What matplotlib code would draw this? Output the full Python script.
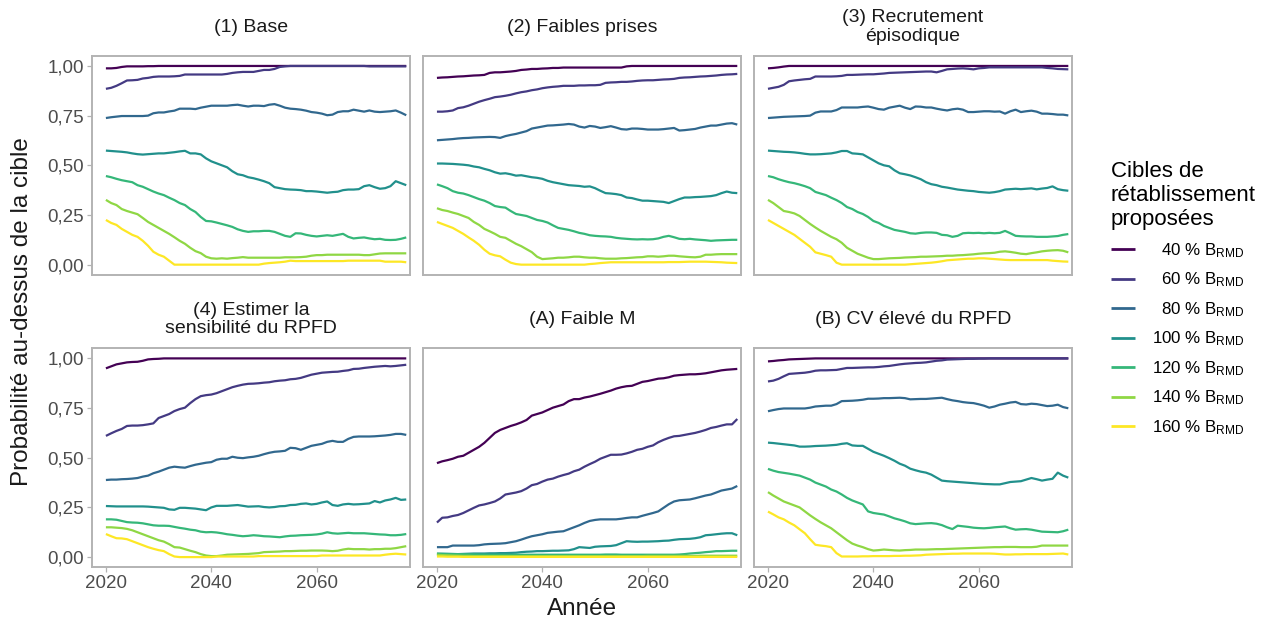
import numpy as np
import matplotlib
matplotlib.use("Agg")
import matplotlib.pyplot as plt

plt.rcParams["font.family"] = ["Liberation Sans", "DejaVu Sans"]
plt.rcParams["mathtext.default"] = "regular"

years = list(range(2020, 2078))

targets = ["40", "60", "80", "100", "120", "140", "160"]
colors = ["#440154", "#443A83", "#31688E", "#21908C", "#35B779", "#8FD744", "#FDE725"]

titles = ["(1) Base", "(2) Faibles prises", "(3) Recrutement\népisodique",
          "(4) Estimer la\nsensibilité du RPFD", "(A) Faible M", "(B) CV élevé du RPFD"]

# (1) Base
base = [
    [0.988, 0.988, 0.99, 0.995, 0.998, 0.998, 0.998, 0.998, 0.999, 0.999,
     1.0, 1.0, 1.0, 1.0, 1.0, 1.0, 1.0, 1.0, 1.0, 1.0,
     1.0, 1.0, 1.0, 1.0, 1.0, 1.0, 1.0, 1.0, 1.0, 1.0,
     1.0, 1.0, 1.0, 1.0, 1.0, 1.0, 1.0, 1.0, 1.0, 1.0,
     1.0, 1.0, 1.0, 1.0, 1.0, 1.0, 1.0, 1.0, 1.0, 1.0,
     1.0, 1.0, 1.0, 1.0, 1.0, 1.0, 1.0, 1.0],
    [0.885, 0.89, 0.90, 0.913, 0.927, 0.928, 0.93, 0.937, 0.94, 0.945,
     0.947, 0.947, 0.947, 0.948, 0.95, 0.957, 0.957, 0.957, 0.957, 0.957,
     0.957, 0.957, 0.957, 0.96, 0.965, 0.968, 0.97, 0.97, 0.97, 0.975,
     0.98, 0.98, 0.985, 0.995, 0.998, 1.0, 1.0, 1.0, 1.0, 1.0,
     1.0, 1.0, 1.0, 1.0, 1.0, 1.0, 1.0, 1.0, 1.0, 1.0,
     0.998, 0.998, 0.998, 0.998, 0.998, 0.998, 0.998, 0.998],
    [0.738, 0.742, 0.745, 0.748, 0.748, 0.748, 0.748, 0.748, 0.75, 0.762,
     0.766, 0.766, 0.771, 0.775, 0.785, 0.785, 0.785, 0.783, 0.79, 0.795,
     0.80, 0.80, 0.80, 0.80, 0.803, 0.805, 0.80, 0.796, 0.80, 0.80,
     0.798, 0.805, 0.808, 0.80, 0.79, 0.785, 0.783, 0.78, 0.775, 0.768,
     0.765, 0.76, 0.752, 0.755, 0.768, 0.772, 0.772, 0.78, 0.775, 0.77,
     0.776, 0.77, 0.768, 0.77, 0.772, 0.776, 0.765, 0.752],
    [0.574, 0.572, 0.570, 0.568, 0.565, 0.56, 0.556, 0.554, 0.556, 0.558,
     0.56, 0.56, 0.563, 0.566, 0.57, 0.573, 0.56, 0.56, 0.555, 0.535,
     0.52, 0.51, 0.50, 0.49, 0.47, 0.455, 0.45, 0.44, 0.435, 0.428,
     0.42, 0.41, 0.39, 0.385, 0.38, 0.378, 0.377, 0.375, 0.37, 0.37,
     0.368, 0.365, 0.362, 0.365, 0.367, 0.375, 0.378, 0.378, 0.38, 0.395,
     0.40, 0.39, 0.382, 0.385, 0.395, 0.42, 0.41, 0.40],
    [0.446, 0.44, 0.432, 0.425, 0.42, 0.415, 0.40, 0.392, 0.38, 0.368,
     0.358, 0.35, 0.337, 0.325, 0.31, 0.30, 0.28, 0.265, 0.24, 0.22,
     0.218, 0.212, 0.205, 0.198, 0.19, 0.178, 0.17, 0.165, 0.168, 0.168,
     0.17, 0.17, 0.165, 0.155, 0.145, 0.14, 0.158, 0.157, 0.15, 0.145,
     0.142, 0.145, 0.148, 0.145, 0.15, 0.155, 0.14, 0.132, 0.135, 0.137,
     0.132, 0.128, 0.13, 0.125, 0.124, 0.125, 0.13, 0.137],
    [0.326, 0.31, 0.30, 0.28, 0.27, 0.262, 0.254, 0.235, 0.215, 0.20,
     0.185, 0.17, 0.155, 0.138, 0.12, 0.105, 0.085, 0.068, 0.058, 0.04,
     0.032, 0.03, 0.032, 0.03, 0.033, 0.035, 0.038, 0.035, 0.035, 0.035,
     0.035, 0.035, 0.035, 0.035, 0.037, 0.037, 0.037, 0.038, 0.04, 0.045,
     0.048, 0.048, 0.05, 0.05, 0.05, 0.05, 0.05, 0.05, 0.05, 0.048,
     0.048, 0.052, 0.056, 0.057, 0.057, 0.057, 0.057, 0.057],
    [0.225, 0.21, 0.20, 0.18, 0.165, 0.15, 0.14, 0.12, 0.095, 0.065,
     0.05, 0.04, 0.02, 0.0, 0.0, 0.0, 0.0, 0.0, 0.0, 0.0,
     0.0, 0.0, 0.0, 0.0, 0.0, 0.0, 0.0, 0.0, 0.0, 0.0,
     0.005, 0.008, 0.01, 0.012, 0.015, 0.02, 0.018, 0.018, 0.018, 0.018,
     0.018, 0.018, 0.018, 0.018, 0.018, 0.018, 0.02, 0.02, 0.02, 0.02,
     0.02, 0.02, 0.02, 0.015, 0.015, 0.015, 0.015, 0.012],
]

# (2) Faibles prises
low_catch = [
    [0.94, 0.942, 0.943, 0.945, 0.947, 0.948, 0.95, 0.952, 0.953, 0.955,
     0.965, 0.968, 0.968, 0.97, 0.972, 0.975, 0.98, 0.982, 0.985, 0.985,
     0.987, 0.988, 0.99, 0.99, 0.992, 0.992, 0.992, 0.992, 0.992, 0.992,
     0.992, 0.992, 0.992, 0.992, 0.992, 0.992, 0.998, 1.0, 1.0, 1.0,
     1.0, 1.0, 1.0, 1.0, 1.0, 1.0, 1.0, 1.0, 1.0, 1.0,
     1.0, 1.0, 1.0, 1.0, 1.0, 1.0, 1.0, 1.0],
    [0.77, 0.77, 0.772, 0.776, 0.788, 0.792, 0.80, 0.81, 0.82, 0.828,
     0.835, 0.843, 0.846, 0.85, 0.855, 0.862, 0.868, 0.872, 0.878, 0.882,
     0.888, 0.892, 0.895, 0.897, 0.90, 0.90, 0.90, 0.902, 0.902, 0.903,
     0.903, 0.905, 0.915, 0.917, 0.918, 0.92, 0.92, 0.922, 0.925, 0.927,
     0.928, 0.928, 0.93, 0.932, 0.933, 0.935, 0.94, 0.942, 0.943, 0.945,
     0.947, 0.948, 0.95, 0.952, 0.955, 0.957, 0.958, 0.96],
    [0.626, 0.628, 0.63, 0.632, 0.635, 0.637, 0.638, 0.64, 0.641, 0.642,
     0.643, 0.642, 0.638, 0.647, 0.653, 0.658, 0.665, 0.672, 0.685, 0.69,
     0.695, 0.70, 0.701, 0.703, 0.705, 0.708, 0.705, 0.695, 0.69, 0.698,
     0.695, 0.688, 0.692, 0.697, 0.69, 0.682, 0.68, 0.685, 0.685, 0.683,
     0.68, 0.68, 0.68, 0.682, 0.685, 0.688, 0.675, 0.677, 0.68, 0.683,
     0.69, 0.695, 0.70, 0.70, 0.705, 0.71, 0.712, 0.705],
    [0.509, 0.509, 0.508, 0.507, 0.505, 0.503, 0.50, 0.494, 0.49, 0.482,
     0.475, 0.465, 0.458, 0.46, 0.455, 0.448, 0.45, 0.445, 0.44, 0.437,
     0.432, 0.422, 0.415, 0.41, 0.405, 0.40, 0.398, 0.396, 0.392, 0.394,
     0.385, 0.372, 0.36, 0.358, 0.355, 0.35, 0.338, 0.335, 0.328, 0.322,
     0.322, 0.32, 0.318, 0.316, 0.31, 0.32, 0.33, 0.338, 0.338, 0.34,
     0.341, 0.343, 0.345, 0.35, 0.36, 0.368, 0.362, 0.36],
    [0.404, 0.395, 0.385, 0.37, 0.362, 0.358, 0.35, 0.34, 0.33, 0.322,
     0.31, 0.295, 0.29, 0.287, 0.27, 0.255, 0.25, 0.245, 0.235, 0.225,
     0.22, 0.212, 0.198, 0.185, 0.18, 0.175, 0.168, 0.16, 0.155, 0.148,
     0.145, 0.143, 0.142, 0.14, 0.135, 0.132, 0.13, 0.128, 0.127, 0.128,
     0.127, 0.128, 0.132, 0.14, 0.145, 0.138, 0.13, 0.128, 0.13, 0.127,
     0.125, 0.123, 0.12, 0.122, 0.123, 0.124, 0.125, 0.125],
    [0.284, 0.275, 0.27, 0.262, 0.255, 0.245, 0.235, 0.215, 0.20, 0.18,
     0.168, 0.155, 0.14, 0.135, 0.12, 0.105, 0.093, 0.078, 0.063, 0.04,
     0.028, 0.03, 0.032, 0.035, 0.035, 0.037, 0.04, 0.04, 0.037, 0.035,
     0.035, 0.032, 0.03, 0.03, 0.03, 0.032, 0.033, 0.035, 0.037, 0.038,
     0.042, 0.042, 0.04, 0.042, 0.045, 0.045, 0.042, 0.04, 0.038, 0.037,
     0.04, 0.05, 0.05, 0.052, 0.053, 0.053, 0.053, 0.053],
    [0.215, 0.205, 0.195, 0.185, 0.17, 0.155, 0.137, 0.12, 0.10, 0.075,
     0.055, 0.047, 0.042, 0.025, 0.01, 0.003, 0.0, 0.0, 0.0, 0.0,
     0.0, 0.0, 0.0, 0.0, 0.0, 0.0, 0.0, 0.0, 0.0, 0.003,
     0.005, 0.008, 0.01, 0.012, 0.012, 0.012, 0.012, 0.012, 0.012, 0.012,
     0.012, 0.012, 0.012, 0.012, 0.013, 0.013, 0.013, 0.014, 0.015, 0.015,
     0.015, 0.015, 0.014, 0.013, 0.012, 0.01, 0.009, 0.008],
]

# (3) Recrutement episodique
episodic = [
    [0.988, 0.99, 0.993, 0.997, 1.0, 1.0, 1.0, 1.0, 1.0, 1.0,
     1.0, 1.0, 1.0, 1.0, 1.0, 1.0, 1.0, 1.0, 1.0, 1.0,
     1.0, 1.0, 1.0, 1.0, 1.0, 1.0, 1.0, 1.0, 1.0, 1.0,
     1.0, 1.0, 1.0, 1.0, 1.0, 1.0, 1.0, 1.0, 1.0, 1.0,
     1.0, 1.0, 1.0, 1.0, 1.0, 1.0, 1.0, 1.0, 1.0, 1.0,
     1.0, 1.0, 1.0, 1.0, 1.0, 1.0, 1.0, 1.0],
    [0.885, 0.89, 0.895, 0.905, 0.923, 0.927, 0.93, 0.933, 0.935, 0.947,
     0.947, 0.947, 0.947, 0.948, 0.95, 0.955, 0.955, 0.956, 0.957, 0.958,
     0.958, 0.96, 0.962, 0.965, 0.966, 0.967, 0.968, 0.969, 0.97, 0.971,
     0.972, 0.972, 0.968, 0.975, 0.983, 0.985, 0.987, 0.988, 0.986, 0.983,
     0.988, 0.99, 0.993, 0.993, 0.993, 0.993, 0.993, 0.993, 0.993, 0.993,
     0.993, 0.993, 0.993, 0.99, 0.988, 0.985, 0.984, 0.983],
    [0.738, 0.74, 0.742, 0.744, 0.745, 0.746, 0.747, 0.748, 0.75, 0.765,
     0.771, 0.771, 0.771, 0.778, 0.791, 0.791, 0.791, 0.791, 0.794, 0.796,
     0.79, 0.783, 0.78, 0.79, 0.795, 0.80, 0.79, 0.783, 0.796, 0.795,
     0.791, 0.791, 0.785, 0.78, 0.776, 0.782, 0.785, 0.78, 0.768, 0.768,
     0.77, 0.772, 0.772, 0.77, 0.771, 0.76, 0.772, 0.78, 0.768, 0.772,
     0.775, 0.77, 0.76, 0.76, 0.758, 0.755, 0.755, 0.751],
    [0.574, 0.572, 0.57, 0.568, 0.567, 0.565, 0.562, 0.558, 0.555, 0.555,
     0.556, 0.558, 0.56, 0.565, 0.572, 0.572, 0.56, 0.558, 0.555, 0.54,
     0.525, 0.51, 0.50, 0.495, 0.475, 0.46, 0.455, 0.449, 0.44, 0.43,
     0.415, 0.405, 0.40, 0.392, 0.388, 0.383, 0.378, 0.375, 0.372, 0.37,
     0.366, 0.364, 0.362, 0.365, 0.37, 0.378, 0.38, 0.382, 0.38, 0.382,
     0.384, 0.379, 0.383, 0.386, 0.394, 0.38, 0.375, 0.372],
    [0.446, 0.44, 0.43, 0.422, 0.415, 0.41, 0.403, 0.395, 0.385, 0.366,
     0.358, 0.35, 0.337, 0.325, 0.31, 0.29, 0.28, 0.265, 0.255, 0.24,
     0.22, 0.21, 0.195, 0.185, 0.175, 0.17, 0.165, 0.158, 0.156, 0.16,
     0.162, 0.162, 0.16, 0.15, 0.148, 0.14, 0.145, 0.158, 0.16, 0.159,
     0.16, 0.158, 0.16, 0.158, 0.16, 0.17, 0.158, 0.145, 0.143, 0.142,
     0.142, 0.14, 0.14, 0.14, 0.142, 0.144, 0.15, 0.154],
    [0.326, 0.31, 0.29, 0.27, 0.265, 0.258, 0.245, 0.225, 0.205, 0.187,
     0.17, 0.155, 0.14, 0.128, 0.11, 0.085, 0.07, 0.055, 0.045, 0.035,
     0.028, 0.028, 0.03, 0.032, 0.033, 0.034, 0.036, 0.037, 0.038, 0.04,
     0.04, 0.041, 0.042, 0.043, 0.045, 0.045, 0.047, 0.048, 0.05, 0.052,
     0.055, 0.057, 0.058, 0.06, 0.065, 0.067, 0.064, 0.06, 0.055, 0.053,
     0.058, 0.062, 0.067, 0.07, 0.072, 0.073, 0.07, 0.062],
    [0.225, 0.21, 0.195, 0.18, 0.165, 0.15, 0.13, 0.11, 0.09, 0.062,
     0.055, 0.048, 0.04, 0.01, 0.0, 0.0, 0.0, 0.0, 0.0, 0.0,
     0.0, 0.0, 0.0, 0.0, 0.0, 0.0, 0.0, 0.002, 0.004, 0.006,
     0.008, 0.01, 0.013, 0.017, 0.022, 0.024, 0.026, 0.028, 0.03, 0.03,
     0.032, 0.032, 0.03, 0.028, 0.026, 0.024, 0.023, 0.023, 0.023, 0.023,
     0.023, 0.023, 0.023, 0.023, 0.02, 0.018, 0.016, 0.015],
]

# (4) Estimer la sensibilite du RPFD
sensitivity = [
    [0.95, 0.96, 0.97, 0.975, 0.98, 0.982, 0.983, 0.988, 0.995, 0.997,
     0.998, 1.0, 1.0, 1.0, 1.0, 1.0, 1.0, 1.0, 1.0, 1.0,
     1.0, 1.0, 1.0, 1.0, 1.0, 1.0, 1.0, 1.0, 1.0, 1.0,
     1.0, 1.0, 1.0, 1.0, 1.0, 1.0, 1.0, 1.0, 1.0, 1.0,
     1.0, 1.0, 1.0, 1.0, 1.0, 1.0, 1.0, 1.0, 1.0, 1.0,
     1.0, 1.0, 1.0, 1.0, 1.0, 1.0, 1.0, 1.0],
    [0.61, 0.623, 0.635, 0.645, 0.66, 0.662, 0.662, 0.664, 0.668, 0.673,
     0.70, 0.71, 0.72, 0.735, 0.745, 0.752, 0.775, 0.795, 0.81, 0.815,
     0.818, 0.825, 0.835, 0.845, 0.855, 0.862, 0.868, 0.872, 0.873, 0.875,
     0.878, 0.88, 0.885, 0.888, 0.89, 0.895, 0.897, 0.902, 0.91, 0.918,
     0.923, 0.928, 0.93, 0.932, 0.933, 0.937, 0.94, 0.947, 0.948, 0.952,
     0.955, 0.958, 0.96, 0.962, 0.96, 0.962, 0.965, 0.968],
    [0.388, 0.39, 0.39, 0.392, 0.393, 0.395, 0.398, 0.405, 0.41, 0.422,
     0.43, 0.44, 0.45, 0.455, 0.452, 0.45, 0.458, 0.465, 0.47, 0.475,
     0.478, 0.49, 0.495, 0.495, 0.505, 0.50, 0.498, 0.502, 0.505, 0.51,
     0.518, 0.525, 0.53, 0.532, 0.535, 0.55, 0.548, 0.54, 0.55, 0.56,
     0.565, 0.57, 0.58, 0.585, 0.58, 0.58, 0.595, 0.605, 0.607, 0.607,
     0.607, 0.608, 0.61, 0.612, 0.615, 0.62, 0.62, 0.615],
    [0.257, 0.256, 0.255, 0.255, 0.255, 0.255, 0.255, 0.255, 0.254, 0.252,
     0.25, 0.248, 0.24, 0.238, 0.248, 0.248, 0.246, 0.244, 0.24, 0.236,
     0.25, 0.258, 0.258, 0.258, 0.26, 0.262, 0.258, 0.254, 0.255, 0.256,
     0.252, 0.25, 0.252, 0.256, 0.257, 0.262, 0.263, 0.268, 0.27, 0.265,
     0.268, 0.275, 0.28, 0.262, 0.258, 0.265, 0.268, 0.265, 0.266, 0.268,
     0.27, 0.282, 0.275, 0.285, 0.29, 0.298, 0.288, 0.29],
    [0.19, 0.19, 0.188, 0.182, 0.176, 0.174, 0.173, 0.17, 0.165, 0.16,
     0.158, 0.158, 0.157, 0.152, 0.147, 0.143, 0.138, 0.135, 0.128, 0.125,
     0.126, 0.124, 0.12, 0.115, 0.112, 0.108, 0.105, 0.107, 0.11, 0.108,
     0.105, 0.104, 0.102, 0.10, 0.104, 0.107, 0.108, 0.11, 0.111, 0.112,
     0.114, 0.118, 0.125, 0.12, 0.118, 0.12, 0.122, 0.12, 0.12, 0.12,
     0.118, 0.116, 0.114, 0.113, 0.11, 0.11, 0.112, 0.116],
    [0.15, 0.15, 0.148, 0.146, 0.142, 0.135, 0.125, 0.115, 0.105, 0.095,
     0.085, 0.078, 0.065, 0.05, 0.048, 0.04, 0.032, 0.025, 0.015, 0.008,
     0.005, 0.005, 0.008, 0.012, 0.013, 0.014, 0.015, 0.016, 0.018, 0.02,
     0.025, 0.026, 0.027, 0.028, 0.03, 0.03, 0.031, 0.032, 0.032, 0.033,
     0.033, 0.033, 0.032, 0.03, 0.032, 0.038, 0.042, 0.04, 0.04, 0.04,
     0.038, 0.04, 0.04, 0.042, 0.042, 0.045, 0.05, 0.055],
    [0.116, 0.105, 0.095, 0.094, 0.09, 0.08, 0.07, 0.06, 0.05, 0.042,
     0.035, 0.03, 0.015, 0.003, 0.0, 0.0, 0.0, 0.0, 0.0, 0.0,
     0.0, 0.003, 0.003, 0.003, 0.003, 0.003, 0.003, 0.003, 0.003, 0.005,
     0.005, 0.005, 0.005, 0.005, 0.005, 0.005, 0.005, 0.005, 0.005, 0.005,
     0.005, 0.008, 0.008, 0.008, 0.008, 0.008, 0.008, 0.008, 0.008, 0.008,
     0.008, 0.008, 0.008, 0.012, 0.015, 0.017, 0.015, 0.013],
]

# (A) Faible M
low_m = [
    [0.473, 0.482, 0.488, 0.495, 0.505, 0.51, 0.525, 0.54, 0.555, 0.575,
     0.60, 0.625, 0.64, 0.65, 0.66, 0.668, 0.678, 0.69, 0.712, 0.72,
     0.728, 0.74, 0.752, 0.76, 0.768, 0.785, 0.795, 0.795, 0.803, 0.808,
     0.815, 0.822, 0.83, 0.838, 0.848, 0.855, 0.86, 0.862, 0.872, 0.882,
     0.886, 0.892, 0.898, 0.90, 0.905, 0.913, 0.916, 0.918, 0.92, 0.92,
     0.922, 0.925, 0.93, 0.935, 0.94, 0.943, 0.945, 0.947],
    [0.174, 0.198, 0.20, 0.207, 0.212, 0.222, 0.235, 0.248, 0.26, 0.265,
     0.272, 0.28, 0.295, 0.315, 0.32, 0.325, 0.332, 0.345, 0.362, 0.368,
     0.38, 0.39, 0.395, 0.405, 0.413, 0.42, 0.432, 0.44, 0.455, 0.468,
     0.48, 0.495, 0.505, 0.515, 0.515, 0.516, 0.522, 0.53, 0.54, 0.545,
     0.555, 0.562, 0.578, 0.59, 0.60, 0.608, 0.61, 0.615, 0.62, 0.625,
     0.632, 0.64, 0.65, 0.655, 0.662, 0.668, 0.668, 0.695],
    [0.05, 0.05, 0.05, 0.058, 0.058, 0.058, 0.058, 0.058, 0.06, 0.064,
     0.066, 0.067, 0.068, 0.07, 0.075, 0.08, 0.088, 0.097, 0.105, 0.11,
     0.115, 0.122, 0.125, 0.128, 0.13, 0.14, 0.15, 0.16, 0.172, 0.182,
     0.187, 0.19, 0.19, 0.19, 0.19, 0.193, 0.197, 0.20, 0.20, 0.208,
     0.215, 0.222, 0.23, 0.248, 0.266, 0.28, 0.286, 0.288, 0.29, 0.296,
     0.303, 0.31, 0.315, 0.325, 0.335, 0.34, 0.345, 0.358],
    [0.017, 0.016, 0.016, 0.015, 0.015, 0.016, 0.017, 0.018, 0.018, 0.018,
     0.019, 0.019, 0.02, 0.02, 0.021, 0.022, 0.025, 0.027, 0.028, 0.03,
     0.03, 0.031, 0.032, 0.032, 0.033, 0.034, 0.04, 0.05, 0.048, 0.046,
     0.052, 0.054, 0.055, 0.056, 0.06, 0.07, 0.08, 0.078, 0.077, 0.078,
     0.078, 0.079, 0.08, 0.082, 0.083, 0.087, 0.09, 0.091, 0.092, 0.095,
     0.10, 0.11, 0.112, 0.115, 0.118, 0.12, 0.12, 0.11],
    [0.017, 0.017, 0.016, 0.016, 0.015, 0.015, 0.014, 0.014, 0.013, 0.013,
     0.012, 0.012, 0.012, 0.012, 0.012, 0.012, 0.012, 0.012, 0.012, 0.012,
     0.012, 0.012, 0.012, 0.012, 0.012, 0.012, 0.012, 0.012, 0.012, 0.012,
     0.012, 0.012, 0.013, 0.013, 0.013, 0.012, 0.012, 0.012, 0.012, 0.012,
     0.012, 0.012, 0.012, 0.012, 0.012, 0.012, 0.013, 0.015, 0.018, 0.02,
     0.022, 0.025, 0.027, 0.03, 0.03, 0.031, 0.032, 0.032],
    [0.012, 0.01, 0.009, 0.008, 0.007, 0.006, 0.006, 0.005, 0.005, 0.005,
     0.005, 0.005, 0.005, 0.005, 0.005, 0.005, 0.005, 0.005, 0.005, 0.005,
     0.005, 0.005, 0.005, 0.005, 0.005, 0.005, 0.005, 0.005, 0.005, 0.005,
     0.005, 0.005, 0.005, 0.005, 0.005, 0.005, 0.005, 0.005, 0.005, 0.005,
     0.006, 0.006, 0.006, 0.006, 0.006, 0.006, 0.006, 0.006, 0.006, 0.006,
     0.007, 0.007, 0.007, 0.007, 0.007, 0.007, 0.007, 0.007],
    [0.003, 0.003, 0.002, 0.002, 0.002, 0.001, 0.001, 0.001, 0.001, 0.001,
     0.001, 0.001, 0.001, 0.001, 0.001, 0.001, 0.001, 0.001, 0.001, 0.001,
     0.001, 0.001, 0.001, 0.001, 0.001, 0.001, 0.001, 0.001, 0.001, 0.001,
     0.001, 0.001, 0.001, 0.001, 0.001, 0.001, 0.001, 0.001, 0.001, 0.001,
     0.001, 0.001, 0.001, 0.001, 0.001, 0.001, 0.001, 0.001, 0.001, 0.001,
     0.001, 0.001, 0.001, 0.001, 0.001, 0.001, 0.001, 0.001],
]

# (B) CV eleve du RPFD
high_cv = [
    [0.985, 0.987, 0.99, 0.992, 0.995, 0.996, 0.997, 0.998, 0.999, 1.0,
     1.0, 1.0, 1.0, 1.0, 1.0, 1.0, 1.0, 1.0, 1.0, 1.0,
     1.0, 1.0, 1.0, 1.0, 1.0, 1.0, 1.0, 1.0, 1.0, 1.0,
     1.0, 1.0, 1.0, 1.0, 1.0, 1.0, 1.0, 1.0, 1.0, 1.0,
     1.0, 1.0, 1.0, 1.0, 1.0, 1.0, 1.0, 1.0, 1.0, 1.0,
     1.0, 1.0, 1.0, 1.0, 1.0, 1.0, 1.0, 1.0],
    [0.884, 0.888, 0.897, 0.91, 0.922, 0.924, 0.926, 0.928, 0.932, 0.938,
     0.94, 0.94, 0.941, 0.942, 0.947, 0.952, 0.952, 0.953, 0.954, 0.955,
     0.955, 0.957, 0.96, 0.962, 0.966, 0.97, 0.973, 0.975, 0.977, 0.978,
     0.98, 0.984, 0.988, 0.99, 0.994, 0.995, 0.996, 0.997, 0.998, 0.998,
     0.999, 0.999, 1.0, 1.0, 1.0, 1.0, 1.0, 1.0, 1.0, 1.0,
     1.0, 1.0, 1.0, 1.0, 1.0, 1.0, 1.0, 1.0],
    [0.734, 0.74, 0.745, 0.748, 0.748, 0.748, 0.748, 0.748, 0.752, 0.758,
     0.76, 0.762, 0.762, 0.77, 0.785, 0.786, 0.787, 0.789, 0.792, 0.797,
     0.797, 0.798, 0.80, 0.80, 0.801, 0.802, 0.80, 0.794, 0.795, 0.796,
     0.796, 0.798, 0.80, 0.802, 0.795, 0.789, 0.785, 0.78, 0.777, 0.775,
     0.769, 0.762, 0.752, 0.758, 0.767, 0.772, 0.778, 0.781, 0.77, 0.768,
     0.772, 0.77, 0.765, 0.76, 0.762, 0.767, 0.755, 0.749],
    [0.576, 0.574, 0.571, 0.568, 0.565, 0.562, 0.556, 0.556, 0.557, 0.559,
     0.56, 0.561, 0.563, 0.565, 0.57, 0.573, 0.562, 0.56, 0.56, 0.545,
     0.53, 0.52, 0.51, 0.498, 0.485, 0.47, 0.46, 0.445, 0.437, 0.43,
     0.425, 0.415, 0.40, 0.385, 0.382, 0.38, 0.378, 0.376, 0.374, 0.372,
     0.37, 0.368, 0.367, 0.366, 0.366, 0.372, 0.378, 0.38, 0.382, 0.39,
     0.398, 0.392, 0.385, 0.39, 0.394, 0.425, 0.41, 0.40],
    [0.444, 0.435, 0.428, 0.424, 0.42, 0.415, 0.41, 0.40, 0.39, 0.375,
     0.365, 0.355, 0.34, 0.33, 0.315, 0.298, 0.285, 0.275, 0.265, 0.23,
     0.222, 0.218, 0.214, 0.205, 0.195, 0.188, 0.18, 0.17, 0.166, 0.168,
     0.17, 0.171, 0.168, 0.161, 0.15, 0.141, 0.158, 0.155, 0.152, 0.148,
     0.146, 0.145, 0.147, 0.15, 0.152, 0.154, 0.145, 0.138, 0.14, 0.141,
     0.138, 0.133, 0.128, 0.127, 0.126, 0.125, 0.13, 0.138],
    [0.327, 0.31, 0.295, 0.28, 0.27, 0.26, 0.25, 0.23, 0.21, 0.192,
     0.175, 0.16, 0.145, 0.125, 0.105, 0.085, 0.068, 0.058, 0.05, 0.04,
     0.033, 0.035, 0.038, 0.036, 0.034, 0.033, 0.035, 0.036, 0.038, 0.038,
     0.038, 0.039, 0.04, 0.04, 0.041, 0.042, 0.043, 0.044, 0.045, 0.046,
     0.047, 0.048, 0.049, 0.05, 0.05, 0.051, 0.051, 0.051, 0.05, 0.05,
     0.05, 0.052, 0.058, 0.058, 0.058, 0.058, 0.058, 0.058],
    [0.229, 0.215, 0.20, 0.19, 0.174, 0.16, 0.14, 0.12, 0.09, 0.062,
     0.058, 0.055, 0.05, 0.02, 0.003, 0.003, 0.003, 0.003, 0.004, 0.004,
     0.005, 0.005, 0.005, 0.005, 0.006, 0.006, 0.007, 0.007, 0.008, 0.009,
     0.012, 0.013, 0.014, 0.015, 0.016, 0.017, 0.017, 0.018, 0.018, 0.018,
     0.018, 0.018, 0.018, 0.017, 0.015, 0.013, 0.013, 0.014, 0.014, 0.015,
     0.015, 0.015, 0.015, 0.015, 0.016, 0.017, 0.018, 0.013],
]

panels = [base, low_catch, episodic, sensitivity, low_m, high_cv]

fig, axes = plt.subplots(2, 3, figsize=(12.7, 6.26), dpi=100, sharex=True, sharey=True)
plt.subplots_adjust(left=0.0724, right=0.8441, top=0.9105, bottom=0.0942,
                    wspace=0.041, hspace=0.338)

grey_border = "#B3B3B3"
for k, ax in enumerate(axes.flat):
    series = panels[k]
    for s, c in zip(series, colors):
        ax.plot(years, s, color=c, lw=1.6, solid_capstyle="butt")
    ax.set_xlim(2017.35, 2077.7)
    ax.set_ylim(-0.05, 1.05)
    for sp in ax.spines.values():
        sp.set_color(grey_border)
        sp.set_linewidth(1.4)
    ax.text(0.5, 1 + 29 / 219, titles[k], transform=ax.transAxes, ha="center",
            va="center", fontsize=14, color="#1A1A1A", linespacing=1.15)
    ax.set_xticks([2020, 2040, 2060])
    ax.set_yticks([0, 0.25, 0.5, 0.75, 1.0])
    ax.set_yticklabels(["0,00", "0,25", "0,50", "0,75", "1,00"])
    ax.tick_params(labelcolor="#4D4D4D", labelsize=13.5,
                   length=3.5, width=0.9, pad=2.0, color=grey_border)
    row, col = divmod(k, 3)
    if row == 0:
        ax.tick_params(axis="x", bottom=False)
    if col > 0:
        ax.tick_params(axis="y", left=False)

fig.text(0.0175, (1 - 311.5 / 626), "Probabilité au-dessus de la cible",
         rotation=90, ha="center", va="center", fontsize=17.5, color="#1A1A1A")
fig.text(582 / 1270, 1 - 609 / 626, "Année", ha="center", va="center",
         fontsize=17.5, color="#1A1A1A")

fs = "\u2007"
labels = [(fs if len(t) == 2 else "") + t + " % B$_{RMD}$" for t in targets]
handles = axes[0, 0].get_lines()
leg = fig.legend(handles, labels, loc="upper left",
                 bbox_to_anchor=(1104 / 1270, 1 - 154 / 626),
                 frameon=False, fontsize=12.2, title="Cibles de\nrétablissement\nproposées",
                 title_fontsize=16, alignment="left", handlelength=1.4,
                 handletextpad=1.05, labelspacing=0.64, borderaxespad=0)
leg.get_title().set_linespacing(1.2)
for h in leg.legend_handles:
    h.set_linewidth(2.0)

fig.savefig("out.png", dpi=100)
